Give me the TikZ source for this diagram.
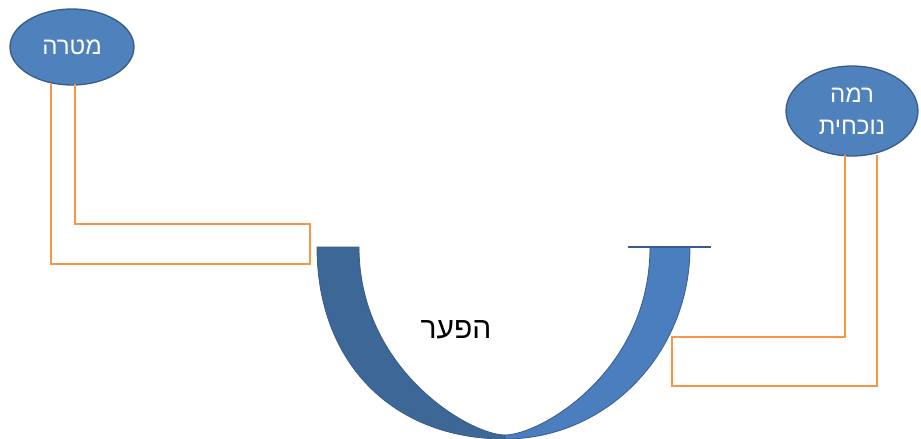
\documentclass[tikz,border=0pt]{standalone}
\usepackage{fontspec}
\usetikzlibrary{shapes.geometric}
\newfontfamily\hebfont[Script=Hebrew]{Liberation Sans}
\TeXXeTstate=1
\definecolor{blfill}{HTML}{4F81BD}
\definecolor{blline}{HTML}{385D8A}
\definecolor{bldark}{HTML}{3C6797}
\definecolor{bllight}{HTML}{4A7EBE}
\definecolor{orng}{HTML}{F79646}
\tikzset{
  oval/.style={ellipse, fill=blfill, draw=blline, line width=1.3pt, text=white, inner sep=0pt, font=\hebfont\fontsize{24}{32}\selectfont, align=center},
  link/.style={draw=orng, line width=1.8pt},
  half/.style={draw=blline, line width=0.8pt},
}
\begin{document}
\begin{tikzpicture}[x=1pt,y=-1pt]
\useasboundingbox (0,0) rectangle (921,439);
% ellipses
\node[oval, minimum width=124pt, minimum height=76pt] (goal) at (72,47) {\beginR מטרה\endR};
\node[oval, minimum width=132pt, minimum height=90pt] (cur) at (852,111) {\beginR רמה\endR\\\beginR נוכחית\endR};
% crescent (gap)
\coordinate (botO) at (505,439);
\coordinate (botI) at (505,435);
\fill[bldark, half] (317,247) .. controls (317,362) and (392,439) .. (botO)
  -- (botI) .. controls (470,435) and (359,370) .. (359,247) -- cycle;
\fill[bllight, half] (botO) .. controls (607,439) and (690,353) .. (690,247)
  -- (650,247) .. controls (650,372) and (540,435) .. (botI) -- cycle;
\coordinate (barL) at (628,247);
\coordinate (barR) at (711,247);
\draw[blline, line width=2.2pt] (barL) -- (barR);
\node[font=\hebfont\fontsize{30}{32}\selectfont, text=black] (gap) at (456,330) {\beginR הפער\endR};
% orange connectors
\coordinate (gA) at (51,84);
\coordinate (gB) at (75,84);
\coordinate (lA) at (310,264);
\coordinate (lB) at (310,224);
\draw[link] (gA) |- (lA) -- (lB) -| (gB);
\coordinate (cA) at (845,155);
\coordinate (cB) at (877,155);
\coordinate (rA) at (672,337);
\coordinate (rB) at (672,386);
\draw[link] (cA) |- (rA) -- (rB) -| (cB);
\end{tikzpicture}
\end{document}
